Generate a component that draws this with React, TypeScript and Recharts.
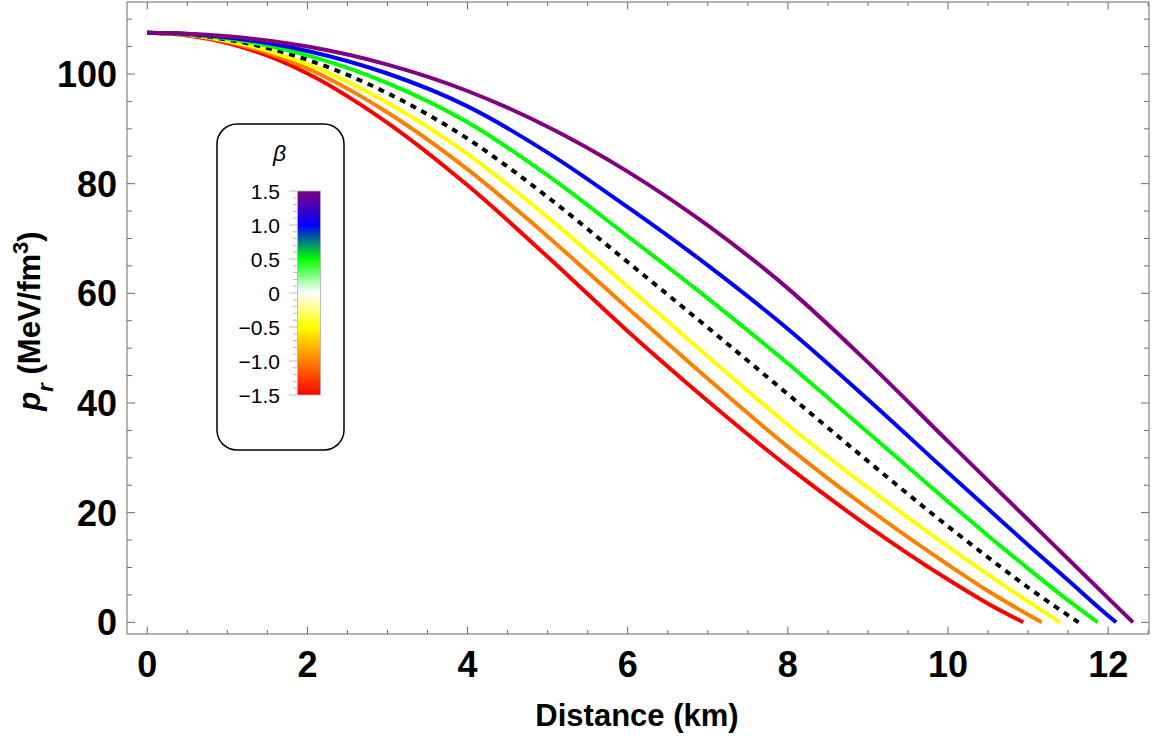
import React from 'react';
import { LineChart, Line, XAxis, YAxis } from 'recharts';

// ---- data ----
const X_RED = [0, 0.5, 1, 1.5, 2, 3, 4, 5, 6, 7, 8, 9, 10, 10.5, 10.94];
const Y_RED = [107.5, 107.04, 105.65, 103.34, 100.1, 91.1, 79.7, 66.67, 53.1, 40.38, 28.4, 17.55, 7.8, 3.4, 0];

const X_ORANGE = [0, 0.5, 1, 1.5, 2, 3, 4, 5, 6, 7, 8, 9, 10, 10.5, 11, 11.17];
const Y_ORANGE = [107.5, 107.09, 105.875, 103.84, 101.0, 92.98, 82.6, 70.38, 57.3, 44.41, 32.0, 20.76, 10.5, 5.7, 1.4, 0];

const X_YELLOW = [0, 0.5, 1, 1.5, 2, 3, 4, 5, 6, 7, 8, 9, 10, 10.5, 11, 11.4];
const Y_YELLOW = [107.5, 107.14, 106.075, 104.29, 101.8, 94.76, 85.4, 73.85, 61.2, 48.48, 36.0, 24.55, 13.8, 8.7, 3.8, 0];

const X_BLACK = [0, 0.5, 1, 1.5, 2, 3, 4, 5, 6, 7, 8, 9, 10, 10.5, 11, 11.63];
const Y_BLACK = [107.5, 107.19, 106.275, 104.74, 102.6, 96.5, 88.2, 77.56, 65.7, 53.75, 41.6, 29.39, 17.5, 11.85, 6.35, 0];

const X_GREEN = [0, 0.5, 1, 1.5, 2, 3, 4, 5, 6, 7, 8, 9, 10, 10.5, 11, 11.5, 11.87];
const Y_GREEN = [107.5, 107.24, 106.475, 105.19, 103.4, 98.34, 91.2, 81.49, 70.4, 59.08, 47.2, 34.62, 22.0, 15.8, 9.8, 4.0, 0];

const X_BLUE = [0, 0.5, 1, 1.5, 2, 3, 4, 5, 6, 7, 8, 9, 10, 10.5, 11, 11.5, 12, 12.1];
const Y_BLUE = [107.5, 107.29, 106.675, 105.64, 104.2, 100.09, 94.1, 85.66, 75.7, 65.1, 53.5, 40.64, 27.3, 20.7, 14.1, 7.65, 1.2, 0];

const X_PURPLE = [0, 0.5, 1, 1.5, 2, 3, 4, 5, 6, 7, 8, 9, 10, 10.5, 11, 11.5, 12, 12.31];
const Y_PURPLE = [107.5, 107.34, 106.875, 106.09, 105.0, 101.71, 96.9, 90.38, 82.2, 72.38, 60.9, 47.4, 33.0, 25.85, 18.7, 11.55, 4.4, 0];

const X_TICKS = [0, 0.5, 1, 1.5, 2, 2.5, 3, 3.5, 4, 4.5, 5, 5.5, 6, 6.5, 7, 7.5, 8, 8.5, 9, 9.5, 10, 10.5, 11, 11.5, 12, 12.5];
const Y_TICKS = [0, 5, 10, 15, 20, 25, 30, 35, 40, 45, 50, 55, 60, 65, 70, 75, 80, 85, 90, 95, 100, 105, 110];
const BETA_TICKS = [1.5, 1.0, 0.5, 0, -0.5, -1.0, -1.5];

const X_DOMAIN = [-0.253, 12.51];
const Y_DOMAIN = [-2.13, 113.13];

const FONT = "'Liberation Sans', Arial, sans-serif";
const AXIS = '#6b6b6b';

const toPts = (xs: number[], ys: number[]) => xs.map((x, i) => ({ x, y: ys[i] }));

const SERIES = [
  { name: 'β = -1.5', color: '#FF0000', dash: undefined, data: toPts(X_RED, Y_RED) },
  { name: 'β = -1.0', color: '#FF8000', dash: undefined, data: toPts(X_ORANGE, Y_ORANGE) },
  { name: 'β = -0.5', color: '#FFFF00', dash: undefined, data: toPts(X_YELLOW, Y_YELLOW) },
  { name: 'β = 0', color: '#000000', dash: '6 6', data: toPts(X_BLACK, Y_BLACK) },
  { name: 'β = 0.5', color: '#00FF00', dash: undefined, data: toPts(X_GREEN, Y_GREEN) },
  { name: 'β = 1.0', color: '#0000FF', dash: undefined, data: toPts(X_BLUE, Y_BLUE) },
  { name: 'β = 1.5', color: '#800080', dash: undefined, data: toPts(X_PURPLE, Y_PURPLE) },
];

const isMult = (v: number, m: number) => Math.abs(v / m - Math.round(v / m)) < 1e-6;

function BottomTick(props: any) {
  const { x, y, payload } = props;
  const v = payload.value;
  const major = isMult(v, 2);
  return (
    <g>
      <line x1={x} x2={x} y1={y} y2={y - (major ? 7.5 : 4)} stroke={AXIS} strokeWidth={1} />
      {major && (
        <text x={x} y={y + 43} textAnchor="middle" fontSize={36} fontWeight="bold" fill="#000" fontFamily={FONT}>
          {String(v)}
        </text>
      )}
    </g>
  );
}

function TopTick(props: any) {
  const { x, y, payload } = props;
  const major = isMult(payload.value, 2);
  return <line x1={x} x2={x} y1={y} y2={y + (major ? 7.5 : 4)} stroke={AXIS} strokeWidth={1} />;
}

function LeftTick(props: any) {
  const { x, y, payload } = props;
  const v = payload.value;
  const major = isMult(v, 20);
  return (
    <g>
      <line x1={x} x2={x + (major ? 8 : 5)} y1={y} y2={y} stroke={AXIS} strokeWidth={1} />
      {major && (
        <text x={x - 10} y={y + 13} textAnchor="end" fontSize={36} fontWeight="bold" fill="#000" fontFamily={FONT}>
          {String(v)}
        </text>
      )}
    </g>
  );
}

function RightTick(props: any) {
  const { x, y, payload } = props;
  const major = isMult(payload.value, 20);
  return <line x1={x} x2={x - (major ? 8 : 5)} y1={y} y2={y} stroke={AXIS} strokeWidth={1} />;
}

const XLabel = () => (
  <text x={637} y={726} textAnchor="middle" fontSize={31} fontWeight="bold" fill="#000" fontFamily={FONT}>
    Distance (km)
  </text>
);

const YLabel = () => (
  <text
    x={40}
    y={321}
    transform="rotate(-90 40 321)"
    textAnchor="middle"
    fontSize={31}
    fontWeight="bold"
    fill="#000"
    fontFamily={FONT}
  >
    <tspan fontStyle="italic">p</tspan>
    <tspan fontStyle="italic" fontSize={22} baselineShift="sub">r</tspan>
    <tspan> (MeV/fm</tspan>
    <tspan fontSize={22} baselineShift="super">3</tspan>
    <tspan>)</tspan>
  </text>
);

function ColorBar() {
  const barTop = 191;
  const barH = 204;
  const barX = 297.5;
  const barW = 23;
  const minor: number[] = [];
  for (let i = 0; i <= 30; i++) minor.push(i);
  const fmt = (v: number) => {
    if (v === 0) return '0';
    const s = Math.abs(v).toFixed(1);
    return v < 0 ? '\u2212' + s : s;
  };
  return (
    <svg
      width={1152}
      height={736}
      style={{ position: 'absolute', left: 0, top: 0, pointerEvents: 'none' }}
    >
      <defs>
        <linearGradient id="betaGrad" x1="0" y1="0" x2="0" y2="1">
          <stop offset="0" stopColor="#800080" />
          <stop offset="0.1667" stopColor="#0000FF" />
          <stop offset="0.3333" stopColor="#00FF00" />
          <stop offset="0.5" stopColor="#FFFFFF" />
          <stop offset="0.6667" stopColor="#FFFF00" />
          <stop offset="0.8333" stopColor="#FF8000" />
          <stop offset="1" stopColor="#FF0000" />
        </linearGradient>
      </defs>
      <rect x={217} y={124} width={127} height={326} rx={20} ry={20} fill="#fff" stroke="#000" strokeWidth={1.5} />
      <text x={279.5} y={161} textAnchor="middle" fontSize={23} fontStyle="italic" fill="#000" fontFamily={FONT}>
        β
      </text>
      <rect x={barX} y={barTop} width={barW} height={barH} fill="url(#betaGrad)" stroke="#b0b0b0" strokeWidth={0.8} />
      {minor.map((i) => {
        const yy = barTop + (i * barH) / 30;
        const major = i % 5 === 0;
        return (
          <line key={i} x1={major ? 289 : 293} x2={barX} y1={yy} y2={yy} stroke="#bbbbbb" strokeWidth={1} />
        );
      })}
      {BETA_TICKS.map((v) => {
        const yy = barTop + ((1.5 - v) / 3) * barH;
        return (
          <text key={v} x={280} y={yy + 7.5} textAnchor="end" fontSize={21} fill="#000" fontFamily={FONT}>
            {fmt(v)}
          </text>
        );
      })}
    </svg>
  );
}

export default function App() {
  return (
    <div style={{ position: 'absolute', left: 0, top: 0, width: 1152, height: 736, background: '#fff' }}>
      <LineChart width={1152} height={736} margin={{ top: 1, right: 2, bottom: 0, left: 0 }}>
        <XAxis
          xAxisId={0}
          dataKey="x"
          type="number"
          domain={X_DOMAIN}
          allowDataOverflow
          ticks={X_TICKS}
          interval={0}
          height={102}
          tickSize={0}
          tickMargin={0}
          tickLine={false}
          axisLine={{ stroke: AXIS, strokeWidth: 1 }}
          tick={BottomTick}
          label={XLabel}
        />
        <XAxis
          xAxisId="top"
          orientation="top"
          dataKey="x"
          type="number"
          domain={X_DOMAIN}
          allowDataOverflow
          ticks={X_TICKS}
          interval={0}
          height={1}
          tickSize={0}
          tickMargin={0}
          tickLine={false}
          axisLine={{ stroke: AXIS, strokeWidth: 1 }}
          tick={TopTick}
        />
        <YAxis
          yAxisId={0}
          type="number"
          domain={Y_DOMAIN}
          allowDataOverflow
          ticks={Y_TICKS}
          interval={0}
          width={127}
          tickSize={0}
          tickMargin={0}
          tickLine={false}
          axisLine={{ stroke: AXIS, strokeWidth: 1 }}
          tick={LeftTick}
          label={YLabel}
        />
        <YAxis
          yAxisId="right"
          orientation="right"
          type="number"
          domain={Y_DOMAIN}
          allowDataOverflow
          ticks={Y_TICKS}
          interval={0}
          width={1}
          tickSize={0}
          tickMargin={0}
          tickLine={false}
          axisLine={{ stroke: AXIS, strokeWidth: 1 }}
          tick={RightTick}
        />
        {SERIES.map((s) => (
          <Line
            key={s.name}
            name={s.name}
            data={s.data}
            dataKey="y"
            xAxisId={0}
            yAxisId={0}
            type="monotone"
            stroke={s.color}
            strokeWidth={4}
            strokeDasharray={s.dash}
            dot={false}
            activeDot={false}
            isAnimationActive={false}
          />
        ))}
      </LineChart>
      <ColorBar />
    </div>
  );
}
